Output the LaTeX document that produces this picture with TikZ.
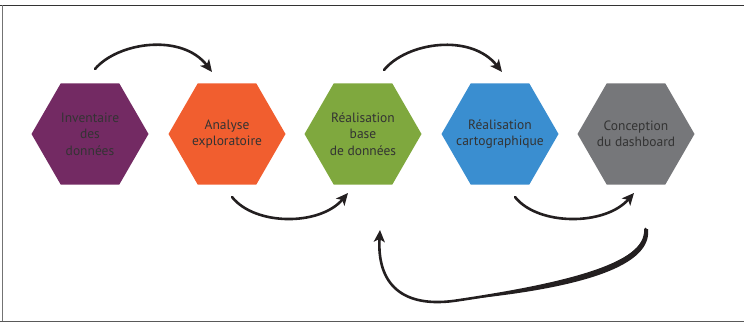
\documentclass[tikz,border=0pt]{standalone}
\usepackage{fontspec}
\setmainfont{PT Sans}
\usetikzlibrary{shapes.geometric,arrows.meta}
\definecolor{hpurple}{HTML}{732A63}
\definecolor{horange}{HTML}{F15E2F}
\definecolor{hgreen}{HTML}{7FA83E}
\definecolor{hblue}{HTML}{3A8ED0}
\definecolor{hgray}{HTML}{76777A}
\definecolor{txt}{HTML}{333333}
\definecolor{arr}{HTML}{231F20}
\tikzset{
  hexa/.style={regular polygon, regular polygon sides=6, minimum size=117pt, inner sep=0pt,
    draw=none, fill=#1},
  hextext/.style={text=txt, align=center, font=\fontsize{13.5}{16.5}\selectfont, inner sep=0pt},
  flow/.style={draw=arr, line width=2.6pt, line cap=round, -{Stealth[length=12pt,width=11pt,inset=3pt]}},
}
\begin{document}
\begin{tikzpicture}[x=1pt,y=-1pt]
\useasboundingbox (0,0) rectangle (744,323);
% frame
\draw[line width=1.6pt, color=black!80] (0,5.5) -- (744,5.5);
\draw[line width=1.6pt, color=black!55] (2.5,5.5) -- (2.5,321.5);
\draw[line width=1.8pt, color=black!65] (0,321.5) -- (744,321.5);
% hexagons
\node[hexa=hpurple, label={[hextext]center:Inventaire\\des\\données}] (h1) at (90,134) {};
\node[hexa=horange, label={[hextext]center:Analyse\\exploratoire}] (h2) at (227,134) {};
\node[hexa=hgreen, label={[hextext]center:Réalisation\\base\\de données}] (h3) at (363,134) {};
\node[hexa=hblue, label={[hextext]center:Réalisation\\cartographique}] (h4) at (500,134) {};
\node[hexa=hgray, label={[hextext]center:Conception\\du dashboard}] (h5) at (636,134) {};
% connector ends
\coordinate (a1s) at (95,69);   \coordinate (a1e) at (212,72);
\coordinate (a2s) at (232,197); \coordinate (a2e) at (348,193);
\coordinate (a3s) at (384,70);  \coordinate (a3e) at (502,72);
\coordinate (a4s) at (515,197); \coordinate (a4e) at (634,193);
\coordinate (a5s) at (645.5,229); \coordinate (a5m) at (460,300); \coordinate (a5e) at (380,230);
% arrows
\draw[flow] (a1s) .. controls (118,42) and (182,33) .. (a1e);
\draw[flow] (a2s) .. controls (255,226) and (320,226) .. (a2e);
\draw[flow] (a3s) .. controls (407,42) and (471,33) .. (a3e);
\draw[flow] (a4s) .. controls (538,226) and (605,226) .. (a4e);
\fill[arr] (644,229) .. controls (647,265) and (560,284) .. (a5m)
   .. controls (565,290) and (653,270) .. (648,229) -- cycle;
\draw[flow] (a5s) .. controls (650,265) and (560,285) .. (a5m)
   .. controls (400,310) and (377,282) .. (a5e);
\end{tikzpicture}
\end{document}
